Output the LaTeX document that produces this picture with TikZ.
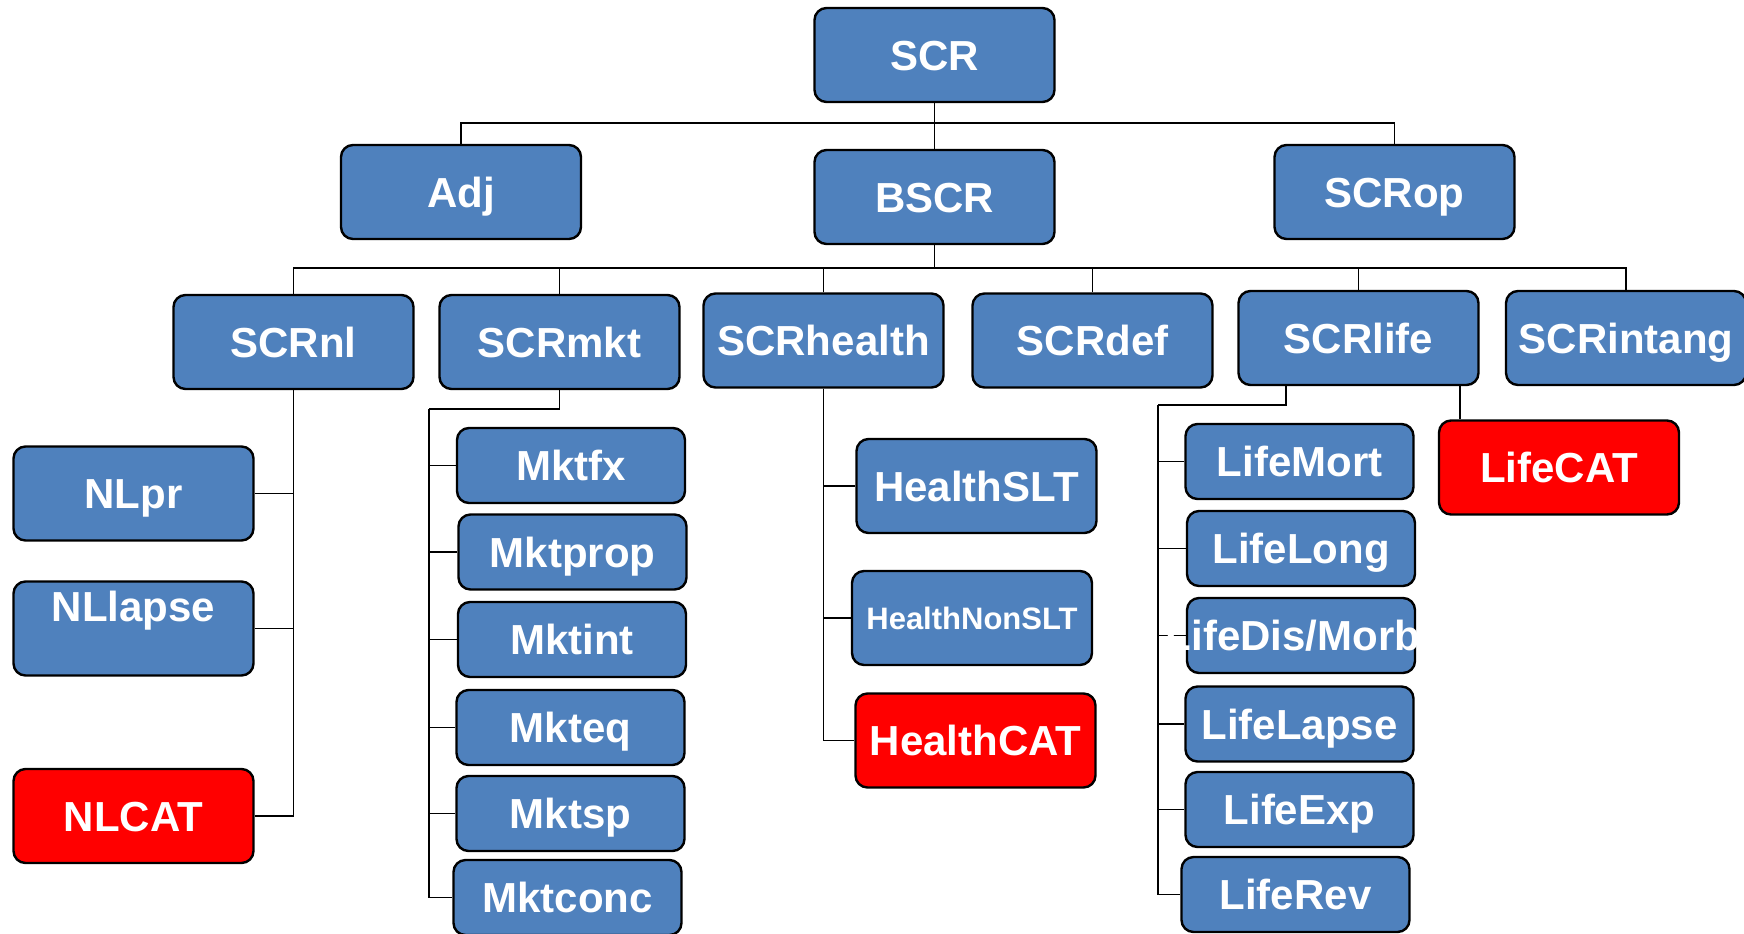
\documentclass[tikz,border=0pt]{standalone}
\usepackage{fontspec}
\setmainfont{Liberation Sans}
\usetikzlibrary{backgrounds}
\definecolor{boxblue}{HTML}{4F81BD}
\definecolor{boxred}{HTML}{FF0000}
\tikzset{
    %Define style for boxes
    block/.style={
      rectangle,
      rounded corners=6pt,
      draw=black, line width=1.2pt,
      fill=boxblue,
      text=white,
      font=\fontsize{21}{24}\selectfont\bfseries,
      text height=15pt,
      text depth=0pt,
      minimum width=120pt,
      minimum height=47pt,
      inner sep=0pt,
      text centered},
    % smaller boxes for the sub modules
    subblock/.style={
      block,
      minimum width=114pt,
      minimum height=37.5pt},
    % catastrophe boxes
    catblock/.style={
      block,
      fill=boxred},
    % Define line style
    link/.style={
      black,
      line width=0.9pt}
}

\begin{document}
\begin{tikzpicture}[x=0.5pt, y=-0.5pt]
    \useasboundingbox (0,0) rectangle (1744,933);
    % top levels
    \node[block] (scr) at (934.5,55) {SCR};
    \node[block] (adj) at (461,192) {Adj};
    \node[block] (bscr) at (934.5,197) {BSCR};
    \node[block] (scrop) at (1394.5,192) {SCRop};
    % modules
    \node[block] (scrnl) at (293.5,342) {SCRnl};
    \node[block] (scrmkt) at (559.5,342) {SCRmkt};
    \node[block] (scrhealth) at (823.5,340.5) {SCRhealth};
    \node[block] (scrdef) at (1092.5,340.5) {SCRdef};
    \node[block] (scrlife) at (1358.5,338) {SCRlife};
    \node[block] (scrintang) at (1626,338) {SCRintang};
    % non life
    \node[block] (nlpr) at (133.5,493.5) {NLpr};
    \node[block, text depth=22pt] (nllapse) at (133.5,628.5) {NLlapse};
    \node[catblock] (nlcat) at (133.5,816) {NLCAT};
    % market
    \node[subblock] (mktfx) at (571,465.5) {Mktfx};
    \node[subblock] (mktprop) at (572.5,552) {Mktprop};
    \node[subblock] (mktint) at (572,639.5) {Mktint};
    \node[subblock] (mkteq) at (570.5,727.5) {Mkteq};
    \node[subblock] (mktsp) at (570.5,813.5) {Mktsp};
    \node[subblock] (mktconc) at (567.5,897.5) {Mktconc};
    % health
    \node[block] (healthslt) at (976.5,486) {HealthSLT};
    \node[block, font=\fontsize{15.5}{18}\selectfont\bfseries, text height=11.1pt] (healthnonslt) at (972,618) {HealthNonSLT};
    \node[catblock] (healthcat) at (975.5,740.5) {HealthCAT};
    % life
    \node[subblock] (lifemort) at (1299.5,461.5) {LifeMort};
    \node[subblock] (lifelong) at (1301,548.5) {LifeLong};
    \node[subblock] (lifedis) at (1301,635.5) {\makebox[100pt]{\hspace{-8pt}LifeDis/Morb}};
    \node[subblock] (lifelapse) at (1299.5,724) {LifeLapse};
    \node[subblock] (lifeexp) at (1299.5,809.5) {LifeExp};
    \node[subblock] (liferev) at (1295.5,894.5) {LifeRev};
    \node[catblock] (lifecat) at (1559,467.5) {LifeCAT};
    % bus points
    \coordinate (topbus) at (934.5,123);
    \coordinate (modbus) at (934.5,268);
    \coordinate (mktbus) at (429,409);
    \coordinate (lifebus) at (1158,405);

    \begin{scope}[on background layer]
      \draw[link] (scr.south) -- (bscr.north);
      \draw[link] (adj.north) |- (topbus) -| (scrop.north);
      \draw[link] (bscr.south) -- (modbus);
      \foreach \n in {scrnl,scrmkt,scrhealth,scrdef,scrlife,scrintang}
        \draw[link] (\n.north) |- (modbus);
      \foreach \n in {nlpr,nllapse,nlcat}
        \draw[link] (scrnl.south) |- (\n.east);
      \draw[link] (scrmkt.south) |- (mktbus);
      \foreach \n in {mktfx,mktprop,mktint,mkteq,mktsp,mktconc}
        \draw[link] (mktbus) |- (\n.west);
      \foreach \n in {healthslt,healthnonslt,healthcat}
        \draw[link] (scrhealth.south) |- (\n.west);
      \draw[link] ([xshift=24.5pt]scrlife.south west) |- (lifebus);
      \foreach \n in {lifemort,lifelong,lifedis,lifelapse,lifeexp,liferev}
        \draw[link] (lifebus) |- (\n.west);
      \draw[link] ([xshift=-10pt]scrlife.south east) -- ([xshift=-10pt]scrlife.south east |- lifecat.north);
    \end{scope}
\end{tikzpicture}
\end{document}
